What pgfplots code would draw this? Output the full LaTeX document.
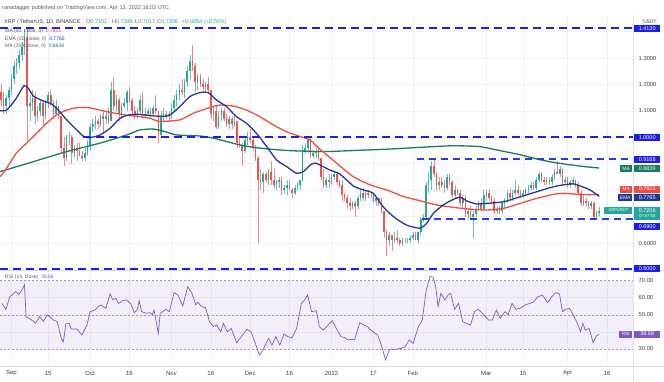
\documentclass[border=0pt]{standalone}
\usepackage{fontspec}
\setmainfont{Liberation Sans}
\usepackage{pgfplots}
\usepackage{pgfplotstable}
\pgfplotsset{compat=1.18}
\definecolor{upc}{RGB}{38,166,154}
\definecolor{dnc}{RGB}{239,83,80}
\definecolor{emac}{RGB}{35,55,155}
\definecolor{ma50c}{RGB}{242,77,68}
\definecolor{ma200c}{RGB}{22,125,96}
\definecolor{linec}{RGB}{30,30,235}
\definecolor{linec2}{RGB}{45,55,240}
\definecolor{rsic}{RGB}{126,87,194}
\definecolor{gridc}{RGB}{238,241,248}
\definecolor{sepc}{RGB}{220,223,232}
\definecolor{txtc}{RGB}{60,63,75}
\definecolor{hdrc}{RGB}{90,92,100}

\pgfplotstableread{
d o h l c
-4 1.17 1.20 1.12 1.14
-3 1.14 1.17 1.09 1.12
-2 1.12 1.16 1.09 1.15
-1 1.15 1.19 1.12 1.18
0 1.18 1.24 1.16 1.22
1 1.22 1.29 1.20 1.27
2 1.27 1.30 1.24 1.28
3 1.28 1.33 1.26 1.31
4 1.31 1.36 1.29 1.34
5 1.34 1.41 1.31 1.38
6 1.38 1.41 0.98 1.12
7 1.12 1.16 1.06 1.13
8 1.13 1.18 1.10 1.15
9 1.15 1.17 1.05 1.08
10 1.08 1.12 1.06 1.10
11 1.10 1.14 1.08 1.13
12 1.13 1.14 1.04 1.08
13 1.08 1.14 1.07 1.13
14 1.13 1.17 1.11 1.16
15 1.16 1.18 1.12 1.13
16 1.13 1.14 1.07 1.09
17 1.09 1.14 1.08 1.12
18 1.12 1.12 1.07 1.08
19 1.08 1.08 0.94 0.96
20 0.96 1.00 0.89 0.92
21 0.92 1.01 0.91 1.00
22 1.00 1.02 0.97 1.00
23 1.00 1.01 0.90 0.94
24 0.94 0.97 0.92 0.96
25 0.96 0.98 0.91 0.95
26 0.95 0.98 0.93 0.93
27 0.93 0.95 0.91 0.92
28 0.92 0.96 0.91 0.94
29 0.94 0.99 0.93 0.97
30 0.97 1.05 0.95 1.04
31 1.04 1.07 1.02 1.05
32 1.05 1.08 1.03 1.06
33 1.06 1.07 1.03 1.05
34 1.05 1.09 1.04 1.08
35 1.08 1.10 1.02 1.07
36 1.07 1.10 1.05 1.08
37 1.08 1.11 1.05 1.06
38 1.06 1.21 1.06 1.18
39 1.18 1.23 1.10 1.12
40 1.12 1.16 1.10 1.14
41 1.14 1.15 1.06 1.09
42 1.09 1.13 1.07 1.12
43 1.12 1.15 1.11 1.13
44 1.13 1.18 1.10 1.17
45 1.17 1.19 1.13 1.14
46 1.14 1.15 1.08 1.10
47 1.10 1.12 1.07 1.09
48 1.09 1.11 1.07 1.10
49 1.10 1.16 1.09 1.14
50 1.14 1.17 1.07 1.08
51 1.08 1.11 1.07 1.09
52 1.09 1.11 1.08 1.10
53 1.10 1.11 1.07 1.09
54 1.09 1.12 1.08 1.11
55 1.11 1.16 1.09 1.10
56 1.10 1.10 0.98 1.01
57 1.01 1.10 1.00 1.08
58 1.08 1.11 1.06 1.09
59 1.09 1.10 1.07 1.08
60 1.08 1.10 1.06 1.09
61 1.09 1.13 1.07 1.11
62 1.11 1.16 1.10 1.14
63 1.14 1.18 1.12 1.16
64 1.16 1.20 1.14 1.18
65 1.18 1.22 1.16 1.17
66 1.17 1.22 1.15 1.21
67 1.21 1.27 1.19 1.25
68 1.25 1.31 1.22 1.29
69 1.29 1.35 1.25 1.27
70 1.27 1.28 1.17 1.21
71 1.21 1.24 1.18 1.23
72 1.23 1.24 1.19 1.20
73 1.20 1.22 1.17 1.19
74 1.19 1.21 1.17 1.20
75 1.20 1.23 1.17 1.18
76 1.18 1.18 1.07 1.09
77 1.09 1.12 1.06 1.10
78 1.10 1.12 1.03 1.04
79 1.04 1.10 1.03 1.08
80 1.08 1.11 1.06 1.10
81 1.10 1.11 1.06 1.07
82 1.07 1.09 1.04 1.05
83 1.05 1.08 1.03 1.07
84 1.07 1.08 1.03 1.05
85 1.05 1.08 1.04 1.06
86 1.06 1.06 0.96 0.98
87 0.98 1.00 0.96 0.97
88 0.97 0.98 0.89 0.95
89 0.95 1.00 0.94 0.99
90 0.99 1.02 0.97 1.00
91 1.00 1.03 0.98 0.99
92 0.99 1.00 0.95 0.96
93 0.96 0.97 0.91 0.92
94 0.92 0.93 0.60 0.84
95 0.84 0.88 0.80 0.83
96 0.83 0.87 0.79 0.86
97 0.86 0.87 0.83 0.84
98 0.84 0.88 0.82 0.87
99 0.87 0.91 0.82 0.84
100 0.84 0.88 0.81 0.82
101 0.82 0.84 0.80 0.83
102 0.83 0.85 0.81 0.84
103 0.84 0.85 0.78 0.80
104 0.80 0.82 0.79 0.81
105 0.81 0.84 0.78 0.82
106 0.82 0.84 0.80 0.80
107 0.80 0.81 0.77 0.79
108 0.79 0.82 0.78 0.81
109 0.81 0.83 0.80 0.82
110 0.82 0.84 0.80 0.84
111 0.84 0.97 0.83 0.95
112 0.95 0.98 0.94 0.96
113 0.96 1.00 0.94 0.99
114 0.99 1.00 0.92 0.93
115 0.93 0.95 0.92 0.94
116 0.94 0.96 0.92 0.95
117 0.95 0.96 0.91 0.92
118 0.92 0.92 0.84 0.85
119 0.85 0.88 0.81 0.82
120 0.82 0.85 0.81 0.84
121 0.84 0.86 0.81 0.83
122 0.83 0.86 0.82 0.85
123 0.85 0.87 0.84 0.86
124 0.86 0.87 0.82 0.83
125 0.83 0.84 0.81 0.82
126 0.82 0.84 0.76 0.78
127 0.78 0.79 0.76 0.77
128 0.77 0.78 0.73 0.75
129 0.75 0.77 0.72 0.74
130 0.74 0.76 0.73 0.75
131 0.75 0.76 0.70 0.74
132 0.74 0.78 0.73 0.77
133 0.77 0.80 0.76 0.79
134 0.79 0.81 0.76 0.77
135 0.77 0.80 0.76 0.79
136 0.79 0.80 0.77 0.78
137 0.78 0.79 0.77 0.78
138 0.78 0.78 0.75 0.76
139 0.76 0.77 0.74 0.77
140 0.77 0.77 0.74 0.75
141 0.75 0.77 0.71 0.72
142 0.72 0.72 0.62 0.64
143 0.64 0.65 0.55 0.61
144 0.61 0.64 0.59 0.63
145 0.63 0.63 0.57 0.61
146 0.61 0.64 0.60 0.62
147 0.62 0.65 0.60 0.61
148 0.61 0.62 0.59 0.60
149 0.60 0.62 0.59 0.61
150 0.61 0.62 0.60 0.61
151 0.61 0.62 0.60 0.61
152 0.61 0.63 0.60 0.62
153 0.62 0.64 0.61 0.63
154 0.63 0.64 0.61 0.61
155 0.61 0.64 0.60 0.64
156 0.64 0.70 0.63 0.69
157 0.69 0.71 0.68 0.70
158 0.70 0.83 0.69 0.82
159 0.82 0.87 0.79 0.84
160 0.84 0.91 0.80 0.89
161 0.89 0.92 0.85 0.86
162 0.86 0.87 0.80 0.82
163 0.82 0.85 0.80 0.83
164 0.83 0.85 0.81 0.82
165 0.82 0.84 0.79 0.81
166 0.81 0.86 0.80 0.85
167 0.85 0.86 0.82 0.83
168 0.83 0.84 0.77 0.78
169 0.78 0.82 0.77 0.80
170 0.80 0.81 0.78 0.79
171 0.79 0.80 0.74 0.75
172 0.75 0.78 0.73 0.77
173 0.77 0.78 0.70 0.71
174 0.71 0.73 0.69 0.72
175 0.72 0.74 0.69 0.70
176 0.70 0.72 0.62 0.71
177 0.71 0.74 0.70 0.73
178 0.73 0.76 0.72 0.75
179 0.75 0.77 0.72 0.73
180 0.73 0.80 0.72 0.78
181 0.78 0.80 0.76 0.79
182 0.79 0.80 0.76 0.77
183 0.77 0.78 0.75 0.76
184 0.76 0.77 0.71 0.72
185 0.72 0.74 0.71 0.73
186 0.73 0.74 0.71 0.72
187 0.72 0.76 0.71 0.75
188 0.75 0.77 0.73 0.76
189 0.76 0.80 0.75 0.79
190 0.79 0.81 0.76 0.77
191 0.77 0.80 0.76 0.79
192 0.79 0.84 0.78 0.80
193 0.80 0.82 0.78 0.79
194 0.79 0.80 0.77 0.78
195 0.78 0.80 0.77 0.79
196 0.79 0.81 0.78 0.80
197 0.80 0.82 0.79 0.81
198 0.81 0.83 0.80 0.82
199 0.82 0.83 0.80 0.81
200 0.81 0.85 0.80 0.84
201 0.84 0.87 0.83 0.86
202 0.86 0.87 0.83 0.84
203 0.84 0.85 0.82 0.83
204 0.83 0.85 0.82 0.84
205 0.84 0.85 0.82 0.83
206 0.83 0.86 0.82 0.85
207 0.85 0.88 0.84 0.87
208 0.87 0.91 0.86 0.86
209 0.86 0.89 0.85 0.88
210 0.88 0.88 0.82 0.83
211 0.83 0.85 0.82 0.84
212 0.84 0.85 0.81 0.82
213 0.82 0.84 0.81 0.83
214 0.83 0.85 0.82 0.84
215 0.84 0.84 0.81 0.82
216 0.82 0.83 0.78 0.79
217 0.79 0.80 0.74 0.75
218 0.75 0.78 0.74 0.76
219 0.76 0.77 0.74 0.75
220 0.75 0.76 0.73 0.74
221 0.74 0.76 0.73 0.75
222 0.75 0.755 0.69 0.70
223 0.70 0.72 0.695 0.715
224 0.7151 0.7346 0.7017 0.7206
}\candles

\tikzset{
  vtag/.style={anchor=west, fill=#1, text=white, font=\fontsize{5.5}{6}\selectfont, inner sep=0pt, minimum width=26pt, minimum height=7pt},
  ntag/.style={anchor=east, fill=#1, text=white, font=\fontsize{4.8}{5}\selectfont, inner sep=0pt, minimum width=12pt, minimum height=7pt},
  hdr/.style={anchor=west, inner sep=0pt, font=\fontsize{5.5}{6}\selectfont, text=hdrc},
  sub/.style={anchor=west, inner sep=0pt, font=\fontsize{5}{5.5}\selectfont, text=hdrc}
}

\begin{document}
\begin{tikzpicture}[x=1pt,y=1pt]
\useasboundingbox (0,0) rectangle (664,381);
\fill[white] (0,0) rectangle (664,381);

% ---------------- price pane ----------------
\begin{axis}[
  at={(0pt,111pt)}, anchor=south west, scale only axis,
  width=633pt, height=253pt,
  xmin=-4.34, xmax=236.9, ymin=0.4979, ymax=1.4552,
  clip=false, axis line style={draw=none}, major tick length=0pt,
  xtick={0,14,30,45,61,76,91,106,122,138,153,181,195,212,227},
  xticklabels={},
  ytick={0.6,0.7,0.8,0.9,1.0,1.1,1.2,1.3,1.4},
  yticklabels={0.6000,{},{},{},{},1.1000,1.2000,1.3000,{}},
  yticklabel pos=right,
  yticklabel style={font=\fontsize{5.8}{6}\selectfont, text=txtc, anchor=west, inner sep=0pt, xshift=5.5pt},
  grid=major, grid style={gridc, line width=0.6pt},
]
% candles: wicks and bodies
\addplot[upc!70, line width=0.5pt, quiver={u=0, v=\thisrow{h}-\thisrow{l}},
  restrict expr to domain={\thisrow{c}-\thisrow{o}}{0:10}] table[x=d, y=l] {\candles};
\addplot[upc, line width=1.6pt, quiver={u=0, v=\thisrow{c}-\thisrow{o}},
  restrict expr to domain={\thisrow{c}-\thisrow{o}}{0:10}] table[x=d, y=o] {\candles};
\addplot[dnc!70, line width=0.5pt, quiver={u=0, v=\thisrow{h}-\thisrow{l}},
  restrict expr to domain={\thisrow{c}-\thisrow{o}}{-10:-0.00001}] table[x=d, y=l] {\candles};
\addplot[dnc, line width=1.6pt, quiver={u=0, v=\thisrow{c}-\thisrow{o}},
  restrict expr to domain={\thisrow{c}-\thisrow{o}}{-10:-0.00001}] table[x=d, y=o] {\candles};

% MA 200
\addplot[ma200c, line width=1.3pt, smooth, tension=0.4] coordinates {
(-4.3,0.870) (8.4,0.908) (21.1,0.946) (33.8,0.978) (44.0,1.009) (49.0,1.028) (54.1,1.031) (58.5,1.022) (62.9,1.009) (71.8,1.005) (76.9,0.997) (82.0,0.984) (88.4,0.968) (94.7,0.959) (101.1,0.953) (107.4,0.949) (119.5,0.946) (130.3,0.950) (143.0,0.955) (155.7,0.962) (168.4,0.968) (178.6,0.965) (181.2,0.960) (187.5,0.947) (193.9,0.934) (200.2,0.918) (206.6,0.905) (212.9,0.896) (219.3,0.888) (224,0.8839)};
% MA 50
\addplot[ma50c, line width=1.3pt, smooth, tension=0.4] coordinates {
(-4.3,0.851) (-1.8,0.883) (1.9,0.940) (5.8,0.978) (9.6,1.015) (13.4,1.053) (17.3,1.085) (21.1,1.103) (24.9,1.112) (28.7,1.113) (32.5,1.106) (36.3,1.097) (40.1,1.090) (44.0,1.084) (49.0,1.078) (52.8,1.072) (56.6,1.060) (64.2,1.066) (69.3,1.091) (75.7,1.113) (79.5,1.122) (84.6,1.118) (89.6,1.103) (94.7,1.078) (99.8,1.047) (104.9,1.021) (110.0,1.003) (113.8,0.990) (117.6,0.955) (124.0,0.902) (130.3,0.851) (136.7,0.820) (143.0,0.801) (149.4,0.776) (155.7,0.760) (162.1,0.744) (168.4,0.735) (174.8,0.728) (181.2,0.725) (187.5,0.731) (193.9,0.750) (200.2,0.769) (206.6,0.784) (210.4,0.788) (216.7,0.784) (224,0.7821)};
% EMA 20
\addplot[emac, line width=1.3pt, smooth, tension=0.4] coordinates {
(-4.3,1.101) (-1.8,1.103) (1.4,1.141) (4.8,1.195) (6.5,1.185) (8.4,1.156) (12.2,1.137) (15.3,1.126) (17.9,1.103) (21.1,1.066) (24.9,1.028) (28.0,1.0) (30.6,1.0) (33.8,1.009) (37.6,1.034) (41.4,1.072) (44.6,1.084) (47.7,1.087) (51.5,1.084) (55.4,1.080) (58.5,1.080) (60.4,1.084) (64.2,1.116) (68.0,1.154) (71.8,1.169) (75.0,1.169) (78.2,1.141) (82.0,1.116) (85.8,1.078) (89.6,1.053) (93.4,1.015) (97.3,0.965) (101.1,0.914) (104.9,0.889) (108.7,0.864) (111.2,0.870) (114.4,0.899) (116.3,0.902) (117.6,0.895) (121.4,0.876) (125.2,0.861) (130.3,0.816) (134.1,0.801) (137.9,0.788) (141.7,0.737) (145.6,0.700) (150.6,0.668) (155.7,0.656) (158.3,0.675) (160.8,0.712) (164.6,0.744) (168.4,0.765) (171.0,0.773) (174.1,0.757) (177.3,0.748) (181.2,0.750) (187.5,0.756) (193.9,0.775) (200.2,0.794) (206.6,0.813) (210.4,0.820) (214.2,0.824) (216.7,0.816) (220.5,0.801) (224,0.7765)};

% horizontal levels
\draw[linec, line width=2pt, dash pattern=on 8pt off 5pt] (axis cs:-4.34,1.413) -- (axis cs:236.9,1.413);
\draw[linec, line width=2pt, dash pattern=on 8pt off 5pt] (axis cs:27.3,1.0) -- (axis cs:236.9,1.0);
\draw[linec2, line width=1.7pt, dash pattern=on 7pt off 5pt] (axis cs:154.5,0.9168) -- (axis cs:236.9,0.9168);
\draw[linec2, line width=1.7pt, dash pattern=on 7pt off 5pt] (axis cs:156.5,0.69) -- (axis cs:236.9,0.69);
\draw[linec, line width=2pt, dash pattern=on 8pt off 5pt] (axis cs:-4.34,0.5) -- (axis cs:236.9,0.5);
\end{axis}

% ---------------- RSI pane ----------------
\begin{axis}[
  at={(0pt,15pt)}, anchor=south west, scale only axis,
  width=633pt, height=96pt,
  xmin=-4.34, xmax=236.9, ymin=20.04, ymax=76.27,
  clip=false, axis line style={draw=none}, major tick length=0pt,
  xtick={0,14,30,45,61,76,91,106,122,138,153,181,195,212,227},
  xticklabels={Sep,15,Oct,16,Nov,16,Dec,16,2022,17,Feb,Mar,15,Apr,16},
  xticklabel style={font=\fontsize{6}{6}\selectfont, text=txtc, anchor=center, yshift=-7pt},
  ytick={30,40,50,60,70},
  yticklabels={30.00,{},50.00,60.00,70.00},
  yticklabel pos=right,
  yticklabel style={font=\fontsize{5.8}{6}\selectfont, text=txtc, anchor=west, inner sep=0pt, xshift=5.5pt},
  grid=major, grid style={gridc, line width=0.6pt},
]
\fill[rsic, fill opacity=0.09] (axis cs:-4.34,30) rectangle (axis cs:236.9,70);
\foreach \lv in {30,50,70}{
  \edef\tmp{\noexpand\draw[gray!75, line width=0.5pt, dash pattern=on 2pt off 2pt] (axis cs:-4.34,\lv) -- (axis cs:236.9,\lv);}\tmp
}
\addplot[rsic, line width=0.7pt] coordinates {
(-3.6,56.7) (-2.1,53.2) (-0.6,60.6) (1.7,63.6) (2.8,62.0) (4.0,64.5) (5.0,67.5) (5.6,49.0) (7.7,47.0) (9.2,45.0) (10.7,49.0) (12.2,46.2) (13.7,50.0) (16.0,47.0) (17.5,46.0) (19.0,36.2) (19.8,34.3) (20.8,45.0) (22.0,45.0) (22.8,41.7) (25.0,41.7) (26.9,38.2) (28.8,44.0) (30.0,51.9) (31.8,52.8) (33.0,54.8) (34.1,55.8) (36.0,53.8) (37.6,62.2) (38.6,59.0) (39.8,59.6) (40.9,56.7) (42.4,58.3) (43.9,58.7) (45.4,56.7) (46.9,51.3) (48.0,53.2) (48.7,58.3) (49.6,51.9) (51.4,50.9) (52.9,51.3) (53.7,50.0) (54.4,52.8) (56.0,39.2) (56.7,50.9) (59.0,53.2) (60.2,51.9) (62.0,63.0) (63.5,61.6) (65.3,55.2) (67.2,66.5) (68.8,62.6) (70.3,55.8) (71.0,57.4) (72.5,54.8) (74.0,54.2) (75.5,46.0) (77.0,43.1) (78.2,44.1) (79.8,40.1) (80.8,45.0) (82.3,40.1) (83.8,42.0) (85.8,33.7) (87.6,37.2) (89.8,41.5) (91.3,40.1) (92.9,33.7) (94.5,26.5) (95.9,29.4) (97.0,33.3) (98.1,36.2) (99.3,32.3) (100.8,37.2) (102.3,32.3) (103.9,38.8) (105.4,37.2) (106.9,36.6) (108.7,42.0) (110.5,56.7) (111.7,58.7) (112.9,61.6) (114.4,51.9) (116.2,52.4) (117.4,43.0) (118.9,41.1) (120.4,43.5) (122.3,46.6) (123.8,42.1) (125.6,37.2) (126.8,36.8) (128.3,35.3) (129.8,35.7) (130.8,35.3) (131.7,40.1) (132.8,45.4) (134.3,44.1) (135.8,43.0) (137.3,40.7) (139.6,38.2) (141.1,31.8) (142.6,23.6) (144.1,29.8) (146.4,29.8) (148.6,30.4) (150.1,31.4) (151.6,35.3) (153.1,33.3) (155.1,43.0) (156.6,47.0) (158.1,64.5) (159.6,72.7) (160.7,72.0) (161.7,66.5) (162.6,54.8) (163.7,62.6) (165.2,58.7) (166.4,61.6) (167.4,62.6) (168.9,53.2) (170.4,56.7) (172.0,46.0) (173.5,45.0) (175.0,44.0) (176.5,51.9) (178.0,53.2) (179.5,50.9) (181.8,47.0) (183.3,47.0) (184.8,52.8) (186.3,48.0) (188.2,51.9) (189.3,50.0) (190.8,56.7) (192.3,53.2) (193.8,53.8) (195.8,55.8) (197.6,56.7) (199.1,57.7) (200.6,60.6) (202.4,61.6) (204.4,57.1) (205.9,60.6) (207.4,63.0) (208.9,62.2) (210.0,51.9) (211.2,53.2) (212.7,53.8) (214.1,50.0) (215.7,45.0) (216.9,40.1) (217.8,45.0) (218.7,41.1) (220.2,42.0) (221.7,33.7) (222.9,37.6) (224.0,38.68)};
\end{axis}

% ---------------- frame lines ----------------
\draw[sepc, line width=0.6pt] (0,15) -- (664,15);
\draw[sepc, line width=0.6pt] (0,111) -- (664,111);
\draw[sepc, line width=0.6pt] (633,0) -- (633,366);

% ---------------- header texts ----------------
\node[hdr] at (2,373) {ranadagger published on TradingView.com, Apr 13, 2022 16:02 UTC};
\node[hdr, text=txtc] at (4,359) {XRP / TetherUS, 1D, BINANCE};
\node[hdr] at (86,359) {O\textcolor{upc}{0.7151}};
\node[hdr] at (112,359) {H\textcolor{upc}{0.7346}};
\node[hdr] at (135,359) {L\textcolor{upc}{0.7017}};
\node[hdr] at (157,359) {C\textcolor{upc}{0.7206}};
\node[hdr, text=upc] at (182,359) {+0.0054 (+0.76\%)};
\node[sub] at (5,350) {MA (50, close, 0)\hspace{3pt}\textcolor{ma50c}{0.7821}};
\node[sub] at (5,342) {EMA (20, close, 0)\hspace{3pt}\textcolor{emac}{0.7765}};
\node[sub] at (5,335) {MA (200, close, 0)\hspace{3pt}\textcolor{ma200c}{0.8839}};
\node[sub] at (5,104) {RSI (14, close)\hspace{3pt}\textcolor{rsic}{38.68}};

% ---------------- right scale tags ----------------
\node[anchor=center, draw=sepc, fill=white, rounded corners=1pt, inner sep=1pt, font=\fontsize{4.8}{5}\selectfont, text=txtc] at (650,359) {USDT};
\node[vtag=linec] at (634,352.5) {1.4130};
\node[vtag=linec] at (634,243.5) {1.0000};
\node[vtag=linec] at (634,221.5) {0.9168};
\node[vtag=ma200c] at (634,212.5) {0.8839};
\node[ntag=ma200c] at (632.5,212.5) {MA};
\node[vtag=ma50c] at (634,192) {0.7821};
\node[ntag=ma50c] at (632.5,192) {MA};
\node[vtag=emac] at (634,183.5) {0.7765};
\node[ntag=emac, minimum width=14pt] at (632.5,183.5) {EMA};
\node[anchor=west, fill=upc, text=white, inner sep=0pt, minimum width=26pt, minimum height=13pt, align=center, font=\fontsize{5.5}{5.5}\selectfont] at (634,167.5) {0.7206\\[-0.5pt]{\fontsize{4.2}{4.2}\selectfont 07:57:58}};
\node[ntag=upc, minimum width=28pt, font=\fontsize{4.2}{5}\selectfont] at (632.5,170.5) {XRPUSDT};
\node[vtag=linec] at (634,154.5) {0.6900};
\node[vtag=linec] at (634,112.5) {0.5000};
\node[vtag=rsic] at (634,47) {38.68};
\node[ntag=rsic, minimum width=13pt] at (632.5,47) {RSI};
\end{tikzpicture}
\end{document}
